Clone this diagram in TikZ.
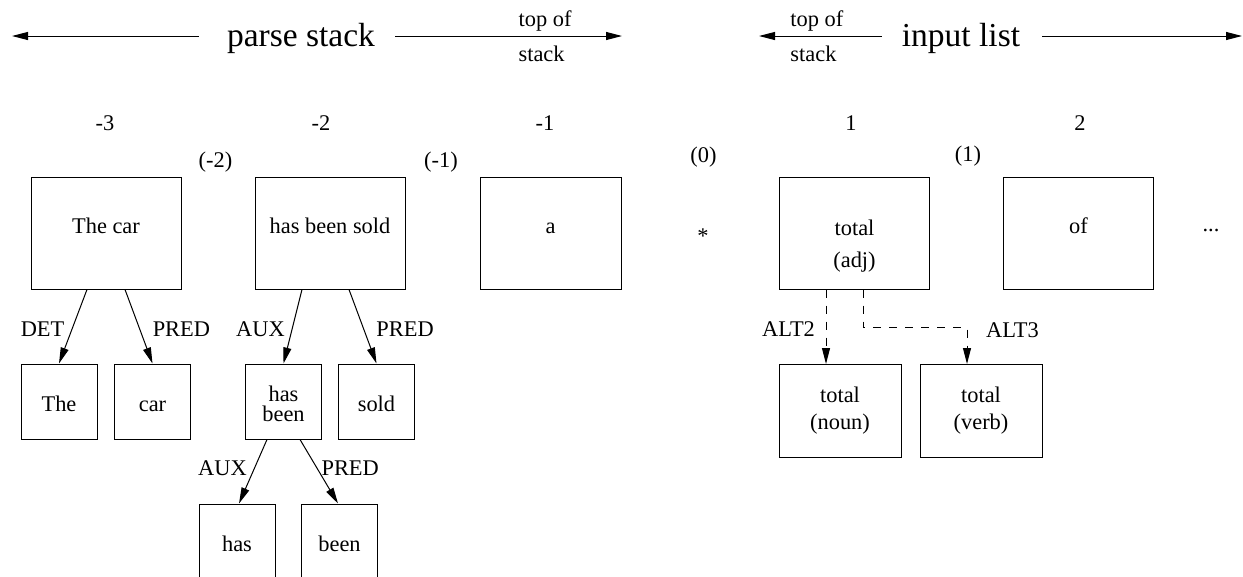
\documentclass[tikz,border=0pt]{standalone}
\usepackage{fontspec}
\setmainfont{Liberation Serif}
\usetikzlibrary{arrows.meta,positioning}

\begin{document}
\begin{tikzpicture}[x=1pt, y=1pt, on grid,
    >={Triangle[length=16pt,width=8pt]},
    every node/.style = {font=\fontsize{22.4}{27}\selectfont},
    bigbox/.style = {draw, line width=1pt, minimum width=150pt, minimum height=112pt, inner sep=0pt, align=center, text height=8pt, text depth=8pt},
    smallbox/.style = {draw, line width=1pt, minimum width=76pt, minimum height=75pt, inner sep=0pt, align=center, text height=20pt, text depth=0pt},
    altbox/.style = {draw, line width=1pt, minimum width=122pt, minimum height=93pt, inner sep=0pt, align=center, text height=36.6pt, text depth=0pt},
    head/.style = {font=\fontsize{33.5}{36}\selectfont, inner sep=0pt, text height=24pt, text depth=3pt},
    note/.style = {inner sep=0pt},
    link/.style = {->, line width=1pt},
    alt/.style = {->, line width=1pt, dash pattern=on 8pt off 8pt}]
        \useasboundingbox (0,0) rectangle (1243,-576);

        % headings
        \node[head] (pstack) at (301,-36) {parse stack};
        \node[head] (ilist) [right=660pt of pstack] {input list};
        \coordinate (pstl) at (12,-36);
        \coordinate (pstr) at (622,-36);
        \coordinate (ilstl) at (759,-36);
        \coordinate (ilstr) at (1242,-36);

        \draw[link] ([xshift=-28pt]pstack.west) -- (pstl);
        \draw[link] ([xshift=20pt]pstack.east) -- node[note, pos=.542, above right=3.8pt and 0pt] {top of} node[note, pos=.542, below right=9.7pt and 0pt] {stack} (pstr);
        \draw[link] ([xshift=-20pt]ilist.west) -- node[note, pos=.748, above right=3.8pt and 0pt] {top of} node[note, pos=.748, below right=9.7pt and 0pt] {stack} (ilstl);
        \draw[link] ([xshift=22pt]ilist.east) -- (ilstr);

        % stack and input cells
        \node[bigbox] (thecar) at (106,-233) {The car};
        \node[bigbox] (hbs) [right=224pt of thecar] {has been sold};
        \node[bigbox, minimum width=141pt] (abox) [right=220.5pt of hbs] {a};
        \node[bigbox, text height=68pt, text depth=0pt, font=\fontsize{22.4}{32}\selectfont] (total) [right=304pt of abox] {total\\(adj)};
        \node[bigbox] (ofbox) [right=224pt of total] {of};

        \node (n3) [above=110pt of thecar, xshift=-1pt] {-3};
        \node (n2) [above=110pt of hbs, xshift=-9pt] {-2};
        \node (n1) [above=110pt of abox, xshift=-5.5pt] {-1};
        \node (p1) [above=110pt of total, xshift=-3.5pt] {1};
        \node (p2) [above=110pt of ofbox, xshift=1.5pt] {2};

        \node (b2) [above right=71pt and 109.5pt of thecar] {(-2)};
        \node (b1) [above right=71pt and 111pt of hbs] {(-1)};
        \node (b0) [above right=75.5pt and 153pt of abox] {(0)};
        \node (bp1) [above right=77pt and 113.5pt of total] {(1)};

        \node (star) [right=152.5pt of abox, yshift=-3.5pt] {*};
        \node (dots) [right=132.5pt of ofbox, yshift=2.5pt] {...};

        % trees
        \node[smallbox] (the) [below left=168.5pt and 47pt of thecar] {The};
        \node[smallbox] (car) [below right=168.5pt and 46.5pt of thecar] {car};
        \node[smallbox, text height=40.4pt, text depth=0pt, font=\fontsize{22.4}{20}\selectfont] (hasbeen) [below left=168.5pt and 46.5pt of hbs] {has\\been};
        \node[smallbox] (sold) [below right=168.5pt and 46.5pt of hbs] {sold};
        \node[smallbox] (has) [below left=140pt and 46.5pt of hasbeen] {has};
        \node[smallbox] (been) [below right=140pt and 56pt of hasbeen] {been};
        \node[altbox] (noun) [below left=178pt and 14.5pt of total] {total\\(noun)};
        \node[altbox] (verb) [below right=178pt and 126.5pt of total] {total\\(verb)};

        \path[link]
        ([xshift=-19pt]thecar.south) edge node[note, pos=.53, left=7.3pt] {DET} (the.north)
        ([xshift=19pt]thecar.south) edge node[note, pos=.53, right=12.7pt] {PRED} (car.north)
        ([xshift=-28pt]hbs.south) edge node[note, pos=.53, left=7pt] {AUX} (hasbeen.north)
        ([xshift=19pt]hbs.south) edge node[note, pos=.53, right=12.4pt] {PRED} (sold.north)
        ([xshift=-16.5pt]hasbeen.south) edge node[note, pos=.45, left=7.2pt] {AUX} ([xshift=2pt]has.north)
        ([xshift=16.5pt]hasbeen.south) edge node[note, pos=.45, right=4pt] {PRED} ([xshift=-1.5pt]been.north)
        ;

        \draw[alt] ([xshift=-28.5pt]total.south) -- node[note, pos=.53, left=10.6pt] {ALT2} ([xshift=-14pt]noun.north);
        \draw[alt] ([xshift=8.5pt]total.south) -- ++(0,-38) -| node[note, pos=.53, right=18.6pt] {ALT3} ([xshift=-14pt]verb.north);
    \end{tikzpicture}
\end{document}
